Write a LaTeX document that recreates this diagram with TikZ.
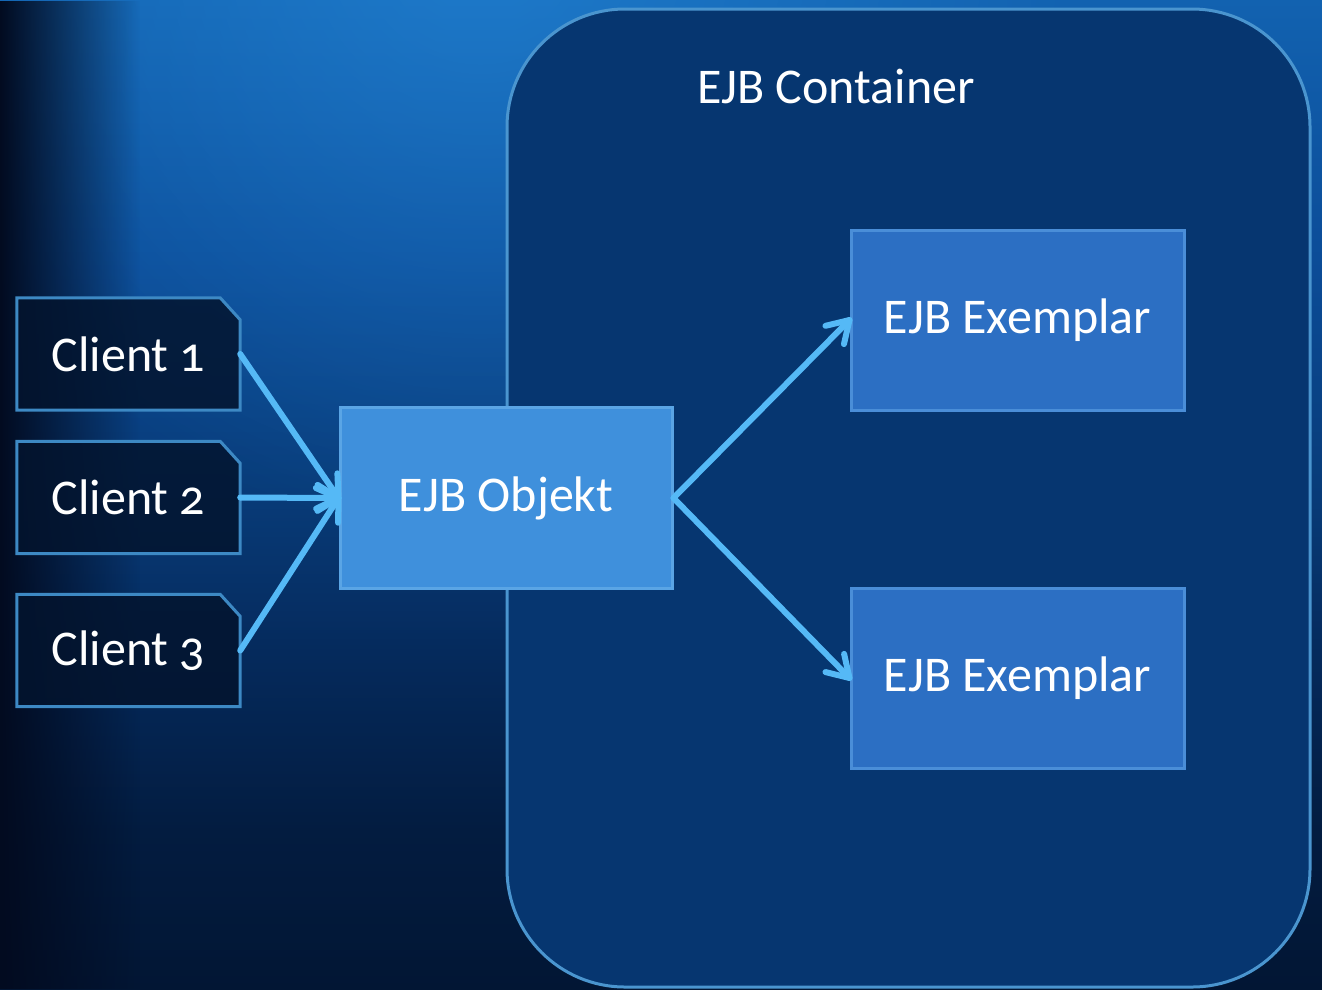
\documentclass[tikz,border=0pt]{standalone}
\usepackage{fontspec}
\setmainfont{Carlito}[Numbers=OldStyle]
\usetikzlibrary{fadings,decorations.markings}

\definecolor{bgdark}{HTML}{020B20}
\definecolor{bgA}{HTML}{1262B0}
\definecolor{bgB}{HTML}{0B4C98}
\definecolor{bgC}{HTML}{083B78}
\definecolor{bgD}{HTML}{052A5C}
\definecolor{bgE}{HTML}{031C40}
\definecolor{bgF}{HTML}{021634}
\definecolor{glow}{HTML}{2A92E4}
\definecolor{contfill}{HTML}{063670}
\definecolor{contline}{HTML}{4A95CF}
\definecolor{clientfill}{HTML}{03142E}
\definecolor{clientline}{HTML}{3D89C4}
\definecolor{objfill}{HTML}{3F90DC}
\definecolor{objline}{HTML}{5AA5E5}
\definecolor{exfill}{HTML}{2C6FC3}
\definecolor{exline}{HTML}{4A8ED8}
\definecolor{flow}{HTML}{55B9F6}

% top-to-bottom wash of the backdrop (25bp = bottom edge, 75bp = top edge)
\pgfdeclareverticalshading{bgfall}{100bp}{%
  color(0bp)=(bgF); color(25bp)=(bgF); color(33bp)=(bgE); color(42bp)=(bgD);
  color(50bp)=(bgC); color(62bp)=(bgB); color(75bp)=(bgA); color(100bp)=(bgA)}
\tikzfading[name=softglow, inner color=transparent!0, outer color=transparent!100]

\tikzset{
  label text/.style={text=white, font=\fontsize{50}{60}\selectfont, inner sep=0pt},
  clientbox/.style={label text, minimum width=223pt, minimum height=112pt},
  clientedge/.style={draw=clientline, fill=clientfill, fill opacity=0.85, line width=3pt, line join=miter},
  objbox/.style={label text, draw=objline, fill=objfill, line width=3pt, minimum width=332pt, minimum height=181pt},
  exbox/.style={label text, draw=exline, fill=exfill, line width=3pt, minimum width=333pt, minimum height=180pt},
  % straight shaft with an open chevron head at its end
  flowarrow/.style={draw=flow, line width=6pt, line cap=round,
    postaction={decorate},
    decoration={markings, mark=at position 1 with {
      \draw[flow, line width=6pt, line cap=round, line join=round]
        (-21pt,13pt) -- (0pt,0pt) -- (-21pt,-13pt);}}},
}

\begin{document}
\begin{tikzpicture}[x=1pt,y=-1pt]
  % backdrop
  \useasboundingbox (0,0) rectangle (1322,989);
  \begin{scope}
    \clip (0,0) rectangle (1322,989);
    \shade[shading=bgfall] (0,0) rectangle (1322,989);
    \fill[glow, path fading=softglow, opacity=0.5] (480,-60) circle[radius=600];
    \fill[bgdark, path fading=east] (0,0) rectangle (140,989);
  \end{scope}

  % container
  \draw[draw=contline, fill=contfill, line width=3pt, rounded corners=118pt]
    (507,9) rectangle (1310,987);
  \node[label text] (title) at (836,86) {EJB Container};

  % clients
  \node[clientbox] (c1) at (128.5,354) {};
  \node[clientbox] (c2) at (128.5,497.5) {};
  \node[clientbox] (c3) at (128.5,650.5) {};
  \foreach \c in {c1,c2,c3}{
    \path[clientedge] (\c.south west) -- (\c.north west) -- ([xshift=-20pt]\c.north east)
      -- ([yshift=-22pt]\c.north east) -- (\c.south east) -- cycle;
  }
  \node[label text] at (c1) {Client 1};
  \node[label text] at (c2) {Client 2};
  \node[label text] at (c3) {Client 3};

  % beans
  \node[objbox] (obj) at (506,498) {EJB Objekt};
  \node[exbox] (ex1) at (1017.5,320) {EJB Exemplar};
  \node[exbox] (ex2) at (1017.5,678) {EJB Exemplar};

  % calls
  \draw[flowarrow] (c1.east) -- (obj.west);
  \draw[flowarrow] (c2.east) -- (obj.west);
  \draw[flowarrow] (c3.east) -- (obj.west);
  \draw[flowarrow] (obj.east) -- (ex1.west);
  \draw[flowarrow] (obj.east) -- (ex2.west);
\end{tikzpicture}
\end{document}
